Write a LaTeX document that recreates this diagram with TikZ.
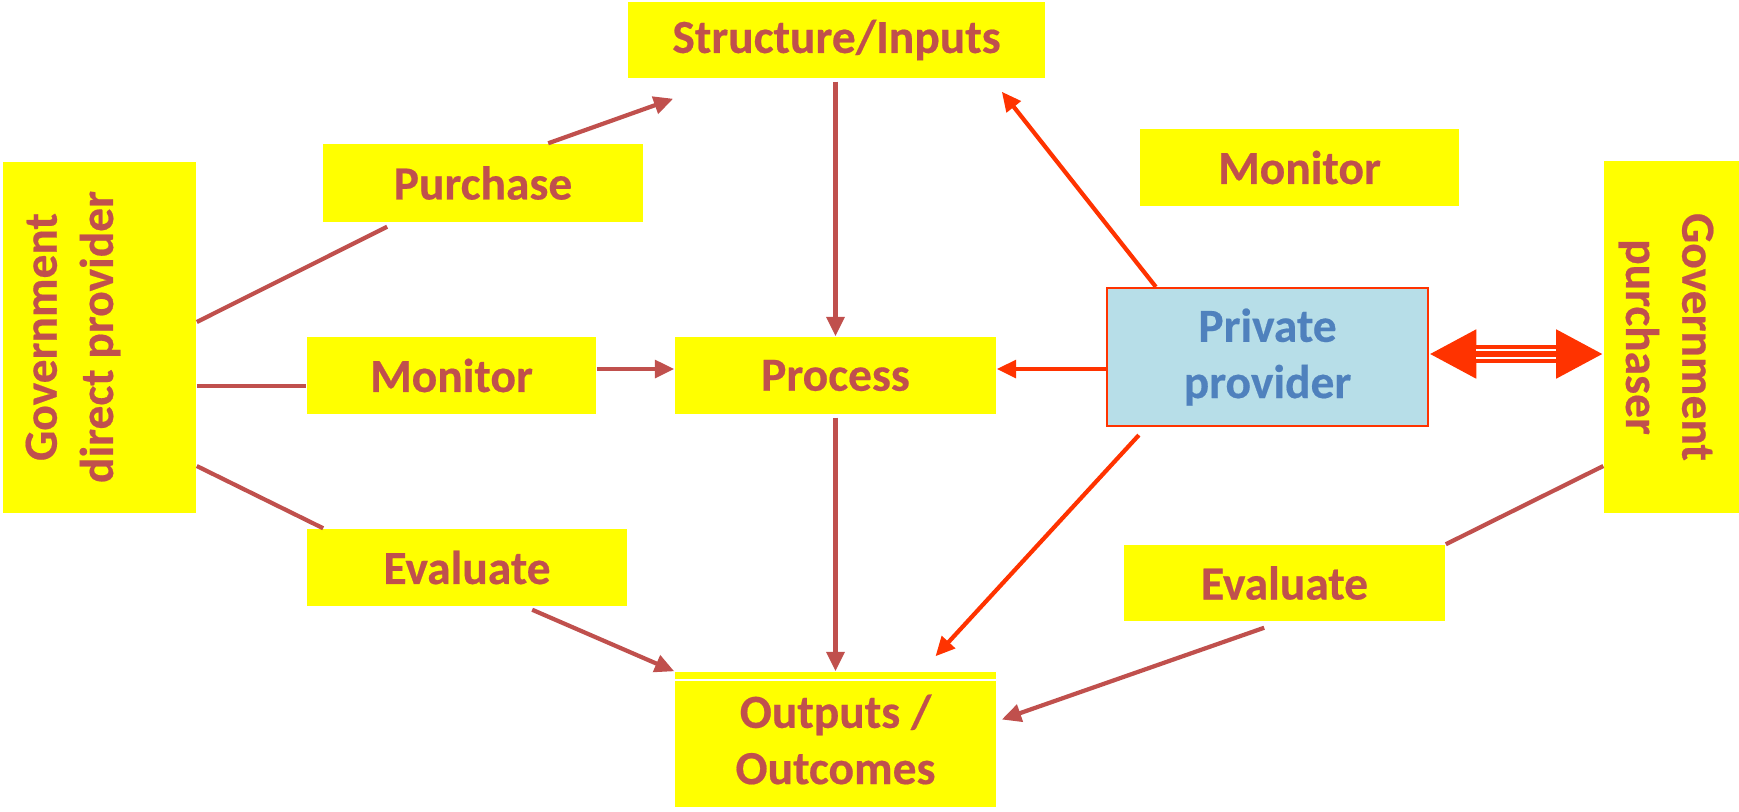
\documentclass[tikz,border=0pt]{standalone}
\usepackage{fontspec}
\setmainfont{Carlito}[BoldFeatures={FakeBold=0.4}]
\usetikzlibrary{calc,arrows.meta}

\definecolor{brick}{HTML}{C0504D}
\definecolor{ybox}{HTML}{FFFF00}
\definecolor{pblue}{HTML}{4F81BD}
\definecolor{pfill}{HTML}{B7DEE8}
\definecolor{flame}{HTML}{FF3300}

\begin{document}
\begin{tikzpicture}[x=0.01cm, y=-0.01cm,  % one unit = one pixel, y downwards
    yellowbox/.style={fill=ybox, text=brick, font=\bfseries\fontsize{13.5}{16}\selectfont, align=center, inner sep=0pt},
    boxtext/.style={text=brick, font=\bfseries\fontsize{13.5}{16}\selectfont, align=center, inner sep=0pt},
    link/.style={brick, line width=1.2pt},
    plink/.style={flame, line width=1.2pt}]
    \useasboundingbox (0,0) rectangle (1739,811);

    % government boxes at both sides
    \node[yellowbox, minimum width=1.93cm, minimum height=3.51cm] (gdp) at (99.5,337.5) {};
    \node[boxtext, rotate=90] (gdptext) at (73,337) {Government\\direct provider};
    \node[yellowbox, minimum width=1.35cm, minimum height=3.52cm] (gp) at (1671.5,337) {};
    \node[boxtext, rotate=-90] (gptext) at (1666,337) {Government\\purchaser};

    % boxes of the middle column
    \node[yellowbox, minimum width=4.17cm, minimum height=0.76cm] (struct) at (836.5,40) {Structure/Inputs};
    \node[yellowbox, minimum width=3.21cm, minimum height=0.77cm] (proc) at (835.5,375.5) {Process};
    \node[yellowbox, minimum width=3.21cm, minimum height=1.35cm] (outc) at (835.5,739.5) {Outputs /\\Outcomes};
    \draw[white, line width=0.6pt] ($(outc.north west)+(0,9)$) -- ($(outc.north east)+(0,9)$);

    % action boxes
    \node[yellowbox, minimum width=3.20cm, minimum height=0.78cm] (purchase) at (483,183) {Purchase};
    \node[yellowbox, minimum width=2.89cm, minimum height=0.77cm] (monL) at (451.5,375.5) {Monitor};
    \node[yellowbox, minimum width=3.20cm, minimum height=0.77cm] (evalL) at (467,567.5) {Evaluate};
    \node[yellowbox, minimum width=3.19cm, minimum height=0.77cm] (monR) at (1299.5,167.5) {Monitor};
    \node[yellowbox, minimum width=3.21cm, minimum height=0.76cm] (evalR) at (1284.5,583) {Evaluate};

    % private provider
    \node[yellowbox, fill=pfill, text=pblue, draw=flame, line width=0.6pt, minimum width=3.21cm, minimum height=1.38cm] (priv) at (1267.5,357) {Private\\provider};

    % links of the direct provider
    \draw[link] ($(gdp.east)+(0,-15.5)$) -- ($(purchase.south west)+(65,4)$);
    \draw[link,-{Triangle[length=5.5pt,width=5pt]}] ($(purchase.north west)+(226,0)$) -- ($(struct.south west)+(46,20)$);
    \draw[link] ($(gdp.east)+(0,48.5)$) -- ($(monL.west)+(0,10.5)$);
    \draw[link,-{Triangle[length=5.5pt,width=5pt]}] ($(monL.east)+(0,-6.5)$) -- ($(proc.west)+(0,-6.5)$);
    \draw[link] ($(gdp.east)+(0,128.5)$) -- ($(evalL.north west)+(17,0)$);
    \draw[link,-{Triangle[length=5.5pt,width=5pt]}] ($(evalL.south west)+(226,3)$) -- (outc.north west);

    % middle column
    \draw[link,-{Triangle[length=5.5pt,width=5pt]}] ($(struct.south)+(-1,3)$) -- (proc.north);
    \draw[link,-{Triangle[length=5.5pt,width=5pt]}] ($(proc.south)+(0,3)$) -- (outc.north);

    % links of the private provider
    \draw[plink,-{Triangle[length=5.5pt,width=5pt]}] ($(priv.north west)+(50,0)$) -- ($(struct.south east)+(-44,13)$);
    \draw[plink,-{Triangle[length=5.5pt,width=5pt]}] ($(priv.west)+(0,12)$) -- ($(proc.east)+(0,-6.5)$);
    \draw[plink,-{Triangle[length=5.5pt,width=5pt]}] ($(priv.south west)+(33,8)$) -- ($(outc.north)+(100,-15)$);

    % links of the purchaser
    \draw[link] ($(gp.west)+(0,129)$) -- (evalR.north east);
    \draw[link,-{Triangle[length=5.5pt,width=5pt]}] ($(evalR.south west)+(141,6)$) -- ($(outc.east)+(5,-20)$);

    % double arrow between provider and purchaser
    \coordinate (dl) at ($(priv.east)+(0,-3)$);
    \coordinate (dr) at (dl -| gp.west);
    \draw[flame, line width=5pt, {Triangle[length=13.4pt,width=13pt]}-{Triangle[length=13.4pt,width=13pt]}] (dl) -- (dr);
    \draw[white, line width=0.5pt] ($(dl)+(47,-3.7)$) -- ($(dr)+(-47,-3.7)$);
    \draw[white, line width=0.5pt] ($(dl)+(47,3.7)$) -- ($(dr)+(-47,3.7)$);
\end{tikzpicture}
\end{document}
